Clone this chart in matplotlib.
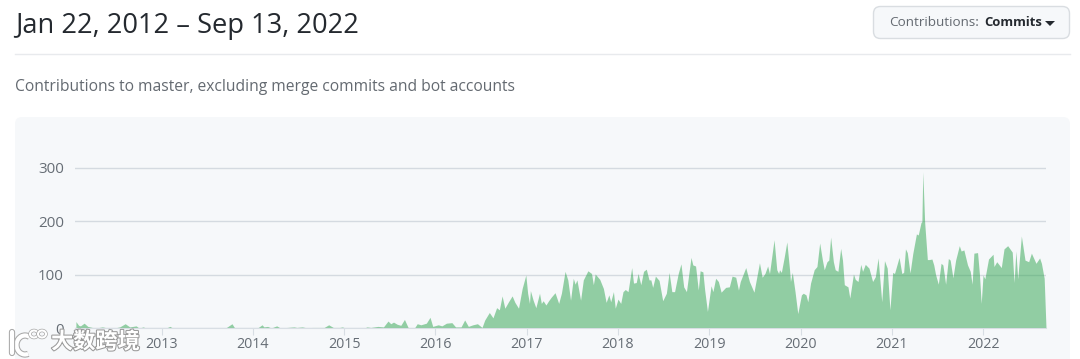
import matplotlib
matplotlib.use('Agg')
import matplotlib.pyplot as plt
import matplotlib.patheffects as pe
from matplotlib.patches import Arc, Ellipse, FancyBboxPatch, Polygon

# Chart values (decimal year, commits)
years_early = [2012.06, 2012.09, 2012.11, 2012.15, 2012.19, 2012.24, 2012.28, 2012.35, 2012.41, 2012.48,
               2012.54, 2012.60, 2012.65, 2012.72, 2012.75, 2012.80, 2012.82, 2013.05, 2013.09, 2013.12,
               2013.67, 2013.71, 2013.77, 2013.80, 2014.05, 2014.10, 2014.12, 2014.16, 2014.20, 2014.26,
               2014.30, 2014.45, 2014.48, 2014.54, 2014.60, 2014.65, 2014.78, 2014.83, 2014.88, 2014.95,
               2014.98, 2015.01, 2015.22, 2015.25, 2015.29, 2015.37, 2015.43, 2015.48, 2015.51, 2015.54,
               2015.58, 2015.62, 2015.66, 2015.70, 2015.77, 2015.80, 2015.84, 2015.90, 2015.94, 2015.97,
               2016.03, 2016.07, 2016.12, 2016.18, 2016.22, 2016.28, 2016.32, 2016.36, 2016.41, 2016.46]
commits_early = [12, 5, 4, 9, 3, 1, 0, 2, 0, 0,
                 2, 8, 2, 4, 0, 2, 0, 0, 3, 0,
                 0, 1, 8, 0, 0, 6, 2, 3, 0, 4,
                 0, 2, 1, 2, 0, 1, 1, 6, 1, 1,
                 2, 0, 0, 2, 1, 3, 2, 13, 8, 11,
                 7, 5, 16, 1, 0, 8, 6, 9, 20, 3,
                 6, 4, 9, 10, 2, 2, 15, 3, 6, 8]

years_2016 = [2016.51, 2016.54, 2016.59, 2016.63, 2016.67, 2016.70, 2016.73, 2016.76, 2016.80, 2016.84,
              2016.87, 2016.91, 2016.95, 2016.99]
commits_2016 = [1, 15, 29, 19, 38, 34, 60, 37, 49, 60,
                48, 37, 74, 99]

years_2017 = [2017.01, 2017.03, 2017.04, 2017.07, 2017.10, 2017.14, 2017.16, 2017.18, 2017.21, 2017.24,
              2017.27, 2017.31, 2017.35, 2017.38, 2017.42, 2017.45, 2017.48, 2017.51, 2017.53, 2017.55,
              2017.59, 2017.62, 2017.67, 2017.71, 2017.73, 2017.75, 2017.80, 2017.84, 2017.87, 2017.90,
              2017.92, 2017.95, 2017.97]
commits_2017 = [65, 46, 70, 52, 38, 65, 46, 51, 43, 51,
                58, 66, 46, 65, 106, 90, 52, 93, 82, 90,
                52, 90, 107, 102, 81, 101, 91, 74, 48, 62,
                49, 68, 37]

years_2018 = [2018.00, 2018.03, 2018.055, 2018.08, 2018.11, 2018.15, 2018.17, 2018.20, 2018.22, 2018.25,
              2018.28, 2018.31, 2018.34, 2018.36, 2018.38, 2018.41, 2018.45, 2018.49, 2018.53, 2018.56,
              2018.59, 2018.62, 2018.66, 2018.69, 2018.72, 2018.75, 2018.80, 2018.82, 2018.85, 2018.88,
              2018.90, 2018.93, 2018.95, 2018.98]
commits_2018 = [54, 46, 68, 72, 68, 113, 84, 85, 102, 81,
                106, 110, 90, 90, 76, 97, 89, 51, 65, 104,
                68, 68, 102, 120, 77, 68, 132, 118, 116, 71,
                107, 105, 71, 31]

years_2019 = [2019.02, 2019.04, 2019.07, 2019.10, 2019.13, 2019.18, 2019.22, 2019.25, 2019.29, 2019.32,
              2019.34, 2019.40, 2019.44, 2019.49, 2019.55, 2019.58, 2019.61, 2019.64, 2019.66, 2019.71,
              2019.74, 2019.76, 2019.77, 2019.79, 2019.82, 2019.85, 2019.88, 2019.89, 2019.91, 2019.94,
              2019.97]
commits_2019 = [79, 68, 93, 87, 67, 76, 77, 97, 95, 71,
                87, 113, 87, 67, 122, 95, 102, 116, 102, 165,
                109, 102, 109, 104, 131, 161, 109, 87, 104, 68,
                27]

years_2020 = [2020.01, 2020.03, 2020.06, 2020.08, 2020.11, 2020.15, 2020.18, 2020.21, 2020.24, 2020.26,
              2020.29, 2020.31, 2020.33, 2020.36, 2020.38, 2020.41, 2020.44, 2020.46, 2020.48, 2020.52,
              2020.54, 2020.58, 2020.60, 2020.63, 2020.66, 2020.68, 2020.71, 2020.75, 2020.79, 2020.82,
              2020.85, 2020.87, 2020.89, 2020.92, 2020.95, 2020.98]
commits_2020 = [62, 65, 62, 49, 84, 109, 115, 159, 127, 109,
                124, 127, 170, 124, 109, 106, 149, 127, 81, 77,
                56, 101, 91, 87, 119, 106, 119, 112, 87, 96,
                131, 90, 49, 126, 112, 34]

years_2021 = [2021.01, 2021.03, 2021.08, 2021.11, 2021.13, 2021.15, 2021.17, 2021.20, 2021.23, 2021.27,
              2021.29, 2021.32, 2021.33, 2021.34, 2021.36, 2021.39, 2021.41, 2021.44, 2021.46, 2021.48,
              2021.51, 2021.54, 2021.56, 2021.59, 2021.62, 2021.64, 2021.67, 2021.70, 2021.74, 2021.76,
              2021.79, 2021.83, 2021.86, 2021.88, 2021.90, 2021.94, 2021.96, 2021.98]
commits_2021 = [104, 102, 132, 102, 104, 148, 141, 103, 139, 176,
                174, 197, 199, 292, 199, 128, 128, 129, 118, 100,
                82, 121, 118, 82, 130, 127, 94, 127, 154, 144,
                146, 118, 106, 82, 140, 141, 102, 46]

years_2022 = [2022.00, 2022.02, 2022.06, 2022.11, 2022.12, 2022.15, 2022.20, 2022.23, 2022.27, 2022.32,
              2022.34, 2022.36, 2022.38, 2022.42, 2022.46, 2022.50, 2022.53, 2022.58, 2022.62, 2022.64,
              2022.67, 2022.69]
commits_2022 = [99, 92, 129, 138, 115, 124, 113, 148, 154, 142,
                85, 144, 92, 172, 127, 124, 140, 121, 131, 121,
                93, 0]

year_ticks = [2013, 2014, 2015, 2016, 2017, 2018, 2019, 2020, 2021, 2022]
count_ticks = [0, 100, 200, 300]

years = years_early + years_2016 + years_2017 + years_2018 + years_2019 + years_2020 + years_2021 + years_2022
commits = commits_early + commits_2016 + commits_2017 + commits_2018 + commits_2019 + commits_2020 + commits_2021 + commits_2022

W, H = 1080, 359
plt.rcParams['font.family'] = ['Open Sans', 'DejaVu Sans']
fig = plt.figure(figsize=(W / 100, H / 100), dpi=100, facecolor='white')

# page layer in pixel coordinates
bg = fig.add_axes([0, 0, 1, 1])
bg.set_xlim(0, W)
bg.set_ylim(H, 0)
bg.axis('off')

bg.text(15, 26, 'Jan 22, 2012 – Sep 13, 2022', fontsize=19.6, color='#24292f', va='center', ha='left')
bg.plot([15, 1070], [54, 54], color='#e8eaed', lw=1)
bg.text(15, 87, 'Contributions to master, excluding merge commits and bot accounts', fontsize=11.25,
        color='#646a71', va='center', ha='left')

# dropdown button
bg.add_patch(FancyBboxPatch((873.5, 6.5), 196, 32, boxstyle='round,pad=0,rounding_size=7',
                            fc='#f6f8fa', ec='#d9dde1', lw=1))
bg.text(889, 23, 'Contributions:', fontsize=9.7, color='#646a71', va='center', ha='left')
bg.text(1042, 23, 'Commits', fontsize=9.4, color='#24292f', va='center', ha='right', fontweight='bold')
bg.add_patch(Polygon([[1045, 21], [1055, 21], [1050, 26]], closed=True, fc='#24292f', ec='none'))

# grey chart panel
bg.add_patch(FancyBboxPatch((15, 117), 1055, 260, boxstyle='round,pad=0,rounding_size=7',
                            fc='#f6f8fa', ec='none'))

# chart axes: px x 75-1046, y 158-328
ax = fig.add_axes([75 / W, 1 - 328 / H, (1046 - 75) / W, 170 / H])
ax.patch.set_alpha(0)
ax.set_xlim(2012.05, 2022.69)
ax.set_ylim(0, 318)
ax.set_axisbelow(True)
ax.grid(axis='y', color='#d4dae0', lw=1)
ax.fill_between(years, commits, 0, color='#2da44e', alpha=0.5, lw=0)

for side in ['top', 'left', 'right']:
    ax.spines[side].set_visible(False)
ax.spines['bottom'].set_color('#d8dee4')
ax.set_xticks(year_ticks)
ax.set_xticklabels([str(y) for y in year_ticks])
ax.set_yticks(count_ticks)
ax.tick_params(axis='x', length=5, color='#d8dee4', labelcolor='#666d75', labelsize=10.3, pad=1.5)
ax.tick_params(axis='y', length=0, labelcolor='#666d75', labelsize=10.9, pad=8)

# watermark over the corner of the chart
halo = [pe.withStroke(linewidth=1.5, foreground='#9a9a9a')]
logo_halo = [pe.Stroke(linewidth=4.5, foreground='#a8a8a8'), pe.Normal()]
loop_halo = [pe.Stroke(linewidth=2.5, foreground='#a8a8a8'), pe.Normal()]
overlay = fig.add_axes([0, 0, 1, 1])
overlay.set_xlim(0, W)
overlay.set_ylim(H, 0)
overlay.axis('off')
overlay.text(51, 342, '大数跨境', fontsize=16, color='white', va='center', ha='left', fontweight='bold',
             family=['Noto Sans CJK SC', 'DejaVu Sans'], path_effects=halo)
overlay.plot([12, 12], [332, 353], color='white', lw=3, solid_capstyle='round', path_effects=logo_halo)
overlay.add_patch(Arc((25, 345), 17, 19, theta1=70, theta2=300, color='white', lw=3, path_effects=logo_halo))
overlay.add_patch(Ellipse((34, 334), 8, 7, fc='none', ec='white', lw=1.5, path_effects=loop_halo))
overlay.add_patch(Ellipse((42, 334), 8, 7, fc='none', ec='white', lw=1.5, path_effects=loop_halo))

fig.savefig('out.png', dpi=100)
